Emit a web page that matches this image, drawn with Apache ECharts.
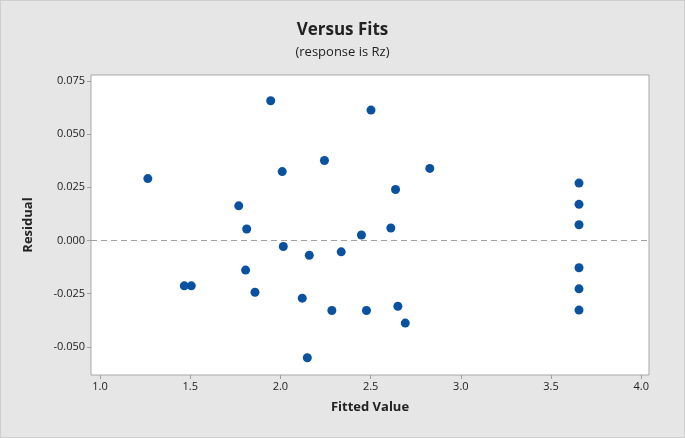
<!DOCTYPE html>
<html>
<head>
<meta charset="utf-8">
<script src="https://cdn.jsdelivr.net/npm/echarts@6/dist/echarts.min.js"></script>
<style>
html,body{margin:0;padding:0;background:#e6e6e6;}
#c{width:685px;height:438px;box-sizing:border-box;border:1px solid #cfcfcf;}
</style>
</head>
<body>
<div id="c"></div>
<script>
const fittedValues = [1.265,1.467,1.506,1.769,1.813,1.807,1.859,1.946,2.010,2.016,2.121,2.160,2.149,2.244,2.285,2.337,2.449,2.477,2.502,2.612,2.638,2.651,2.692,2.828,3.655,3.655,3.655,3.655,3.655,3.655];
const residuals = [0.0291,-0.0213,-0.0213,0.0163,0.0054,-0.0139,-0.0243,0.0657,0.0324,-0.0028,-0.0271,-0.0069,-0.0551,0.0376,-0.0329,-0.0053,0.0026,-0.0329,0.0613,0.0059,0.0240,-0.0309,-0.0388,0.0339,0.0270,0.0170,0.0074,-0.0128,-0.0227,-0.0327];
const xTicks = [1.0,1.5,2.0,2.5,3.0,3.5,4.0];
const yTicks = [-0.050,-0.025,0.000,0.025,0.050,0.075];

const chart = echarts.init(document.getElementById('c'));
const font = "'Open Sans', 'Noto Sans', sans-serif";
chart.setOption({
  backgroundColor: '#e6e6e6',
  animation: false,
  textStyle: {fontFamily: font},
  title: {
    text: 'Versus Fits',
    subtext: '(response is Rz)',
    left: 'center',
    top: 16,
    itemGap: 7,
    textStyle: {fontFamily: font, fontSize: 17, fontWeight: 'bold', color: '#222'},
    subtextStyle: {fontFamily: font, fontSize: 13, color: '#222'}
  },
  grid: {left: 90, right: 35, top: 74, bottom: 62, show: true, backgroundColor: '#ffffff', borderColor: '#a8a8a8', borderWidth: 1},
  xAxis: {
    type: 'value', min: 0.95, max: 4.043,
    name: 'Fitted Value', nameLocation: 'middle', nameGap: 26,
    nameTextStyle: {fontFamily: font, fontSize: 13, fontWeight: 'bold', color: '#222'},
    axisLine: {show: false, onZero: false},
    splitLine: {show: false},
    axisTick: {show: true, customValues: xTicks, length: 4, lineStyle: {color: '#a0a0a0'}},
    axisLabel: {customValues: xTicks, formatter: v => v.toFixed(1), fontSize: 11, color: '#222', margin: 6, fontFamily: font}
  },
  yAxis: {
    type: 'value', min: -0.0632, max: 0.0778,
    name: 'Residual', nameLocation: 'middle', nameGap: 56,
    nameTextStyle: {fontFamily: font, fontSize: 13, fontWeight: 'bold', color: '#222'},
    axisLine: {show: false, onZero: false},
    splitLine: {show: false},
    axisTick: {show: true, customValues: yTicks, length: 4, lineStyle: {color: '#a0a0a0'}},
    axisLabel: {customValues: yTicks, formatter: v => v.toFixed(3), fontSize: 11, color: '#222', margin: 6, fontFamily: font}
  },
  series: [{
    type: 'scatter',
    data: fittedValues.map((x, i) => [x, residuals[i]]),
    symbol: 'circle',
    symbolSize: 9,
    itemStyle: {color: '#0a52a0', opacity: 1},
    markLine: {
      silent: true, symbol: 'none', label: {show: false},
      lineStyle: {type: [6, 4], color: '#a0a0a0', width: 1},
      data: [{yAxis: 0}]
    }
  }]
});
</script>
</body>
</html>
